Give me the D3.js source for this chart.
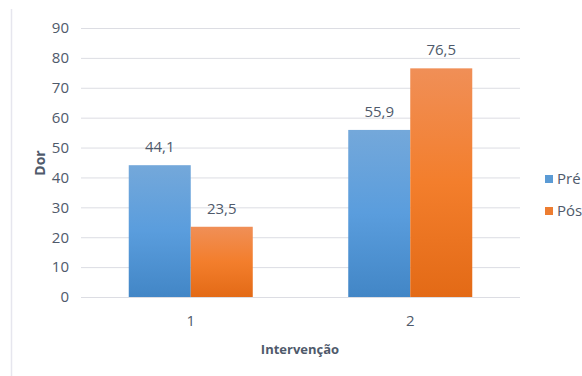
<!DOCTYPE html>
<html><head><meta charset="utf-8">
<script src="https://cdn.jsdelivr.net/npm/d3@7"></script>
<style>
html,body{margin:0;padding:0;background:#fff;}
svg{display:block;}
text{font-family:"Liberation Sans Narrow","Open Sans",sans-serif;}
</style></head>
<body>
<svg id="c" width="582" height="376"></svg>
<script>
const categories = ["1", "2"];
const seriesNames = ["Pré", "Pós"];
const preValues = [44.1, 55.9];
const posValues = [23.5, 76.5];
const yTicks = [0, 10, 20, 30, 40, 50, 60, 70, 80, 90];
const xTitle = "Intervenção";
const yTitle = "Dor";

const svg = d3.select("#c");
const W = 582, H = 376;
const m = {left: 81, right: 62, top: 28, bottom: 79};
const x0 = d3.scaleBand().domain(categories).range([m.left, W - m.right]).paddingInner(0.435).paddingOuter(0.2175);
const x1 = d3.scaleBand().domain(seriesNames).range([0, x0.bandwidth()]);
const y = d3.scaleLinear().domain([0, 90]).range([H - m.bottom, m.top]);

const defs = svg.append("defs");
const grads = [
  {id: "gPre", stops: ["#74a8da", "#5a9ddd", "#4286c6"]},
  {id: "gPos", stops: ["#f08f57", "#f37e2c", "#e36a16"]}
];
grads.forEach(g => {
  const lg = defs.append("linearGradient").attr("id", g.id).attr("x1", 0).attr("y1", 0).attr("x2", 0).attr("y2", 1);
  g.stops.forEach((c, i) => lg.append("stop").attr("offset", i / (g.stops.length - 1)).attr("stop-color", c));
});
const fills = {"Pré": "url(#gPre)", "Pós": "url(#gPos)"};
const solid = {"Pré": "#5b9bd5", "Pós": "#ed7d31"};

// left frame line
svg.append("line").attr("x1", 11.5).attr("x2", 11.5).attr("y1", 9).attr("y2", H).attr("stroke", "#e6e6ee").attr("stroke-width", 1.5);

// grid
const yAxis = d3.axisLeft(y).tickValues(yTicks).tickSize(-(W - m.right - m.left)).tickPadding(12).tickFormat(d3.format("d"));
const gy = svg.append("g").attr("transform", `translate(${m.left},0)`).call(yAxis);
gy.select(".domain").remove();
gy.selectAll(".tick line").attr("stroke", "#dcdde3").attr("stroke-width", 1);
gy.selectAll(".tick text").attr("fill", "#4f5a6b").style("font-size", "15px").attr("x", -12);

const data = categories.map((c, i) => ({cat: c, vals: [
  {s: "Pré", v: preValues[i]}, {s: "Pós", v: posValues[i]}
]}));

const groups = svg.append("g").selectAll("g").data(data).join("g")
  .attr("transform", d => `translate(${x0(d.cat)},0)`);
groups.selectAll("rect").data(d => d.vals).join("rect")
  .attr("x", d => x1(d.s))
  .attr("width", x1.bandwidth())
  .attr("y", d => y(d.v))
  .attr("height", d => y(0) - y(d.v))
  .attr("fill", d => fills[d.s]);
groups.selectAll("text.lbl").data(d => d.vals).join("text").attr("class", "lbl")
  .attr("x", d => x1(d.s) + x1.bandwidth() / 2)
  .attr("y", d => y(d.v) - 13)
  .attr("text-anchor", "middle")
  .attr("fill", "#4f5a6b").style("font-size", "15px")
  .text(d => d3.format(".1f")(d.v).replace(".", ","));

// x axis labels
const xAxis = d3.axisBottom(x0).tickSize(0).tickPadding(18);
const gx = svg.append("g").attr("transform", `translate(0,${y(0)})`).call(xAxis);
gx.select(".domain").remove();
gx.selectAll(".tick text").attr("fill", "#4f5a6b").style("font-size", "15px");

// titles
svg.append("text").attr("x", 300).attr("y", 354).attr("text-anchor", "middle")
  .attr("fill", "#4f5a6b").style("font-size", "13px").style("font-weight", "bold")
  .style("font-family", "'Open Sans',sans-serif").text(xTitle);
svg.append("text").attr("transform", "translate(45,163) rotate(-90)").attr("text-anchor", "middle")
  .attr("fill", "#4f5a6b").style("font-size", "14px").style("font-weight", "bold")
  .style("font-family", "'Open Sans',sans-serif").text(yTitle);

// legend
const lg = svg.append("g").selectAll("g").data(seriesNames).join("g")
  .attr("transform", (d, i) => `translate(545,${175 + i * 32})`);
lg.append("rect").attr("width", 8).attr("height", 8).attr("fill", d => solid[d]);
lg.append("text").attr("x", 12).attr("y", 4).attr("dy", "0.35em")
  .attr("fill", "#4f5a6b").style("font-size", "15px").text(d => d);
</script>
</body></html>
